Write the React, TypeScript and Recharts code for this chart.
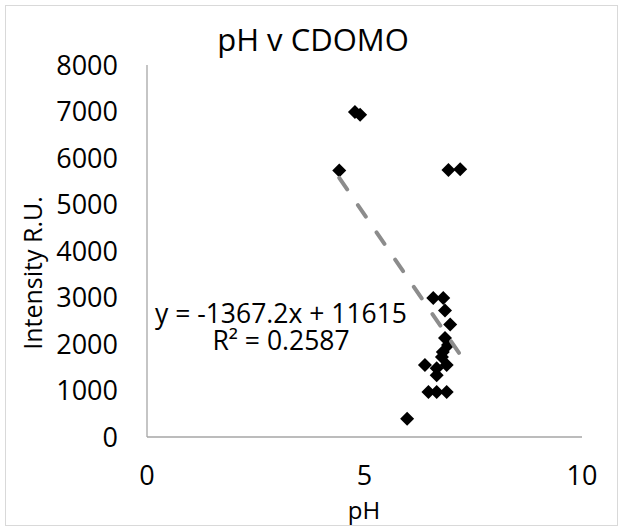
import React from 'react';
import { ScatterChart, Scatter, XAxis, YAxis } from 'recharts';

const phValues = [4.42, 4.78, 4.9, 6.93, 7.2, 5.98, 6.58, 6.81, 6.85, 6.97, 6.85, 6.92, 6.8, 6.78, 6.39, 6.66, 6.89, 6.66, 6.47, 6.66, 6.89];
const intensityValues = [5730, 6990, 6930, 5740, 5760, 390, 2990, 2990, 2720, 2420, 2130, 1980, 1830, 1720, 1550, 1480, 1550, 1330, 970, 970, 970];
const xTicks = [0, 5, 10];
const yTicks = [0, 1000, 2000, 3000, 4000, 5000, 6000, 7000, 8000];
const trendSlope = -1367.2;
const trendIntercept = 11615;
const titleText = 'pH v CDOMO';
const xTitle = 'pH';
const yTitle = 'Intensity R.U.';
const equationText = 'y = -1367.2x + 11615';
const r2Text = 'R² = 0.2587';

const points = phValues.map((x, i) => ({ x, y: intensityValues[i] }));
const minX = Math.min(...phValues);
const maxX = Math.max(...phValues);
const trendPoints = [
  { x: minX, y: trendSlope * minX + trendIntercept },
  { x: maxX, y: trendSlope * maxX + trendIntercept },
];

const FONT = '"Open Sans", sans-serif';

const Diamond = (props: any) => {
  const { cx, cy } = props;
  const r = 7;
  return <path d={`M${cx},${cy - r}L${cx + r},${cy}L${cx},${cy + r}L${cx - r},${cy}Z`} fill="#000" />;
};

const NoShape = () => <g />;

export default function App() {
  return (
    <div style={{ position: 'relative', width: 623, height: 531, background: '#fff' }}>
      <style>{'body{margin:0;}'}</style>
      <ScatterChart width={623} height={531} margin={{ top: 65, right: 41, bottom: 0, left: 0 }}>
        <XAxis
          type="number"
          dataKey="x"
          domain={[0, 10]}
          ticks={xTicks}
          interval={0}
          height={94}
          tickLine={false}
          tickSize={0}
          tickMargin={29}
          axisLine={{ stroke: '#a6a6a6', strokeWidth: 1.3 }}
          tick={{ fill: '#000', fontSize: 27, fontFamily: FONT }}
        />
        <YAxis
          type="number"
          dataKey="y"
          domain={[0, 8000]}
          ticks={yTicks}
          interval={0}
          width={147}
          tickLine={false}
          tickSize={0}
          tickMargin={29}
          axisLine={{ stroke: '#a6a6a6', strokeWidth: 1.3 }}
          tick={{ fill: '#000', fontSize: 27, fontFamily: FONT }}
        />
        <Scatter data={points} shape={Diamond} isAnimationActive={false} />
        <Scatter
          data={trendPoints}
          shape={NoShape}
          line={{ stroke: '#8c8c8c', strokeWidth: 4, strokeDasharray: '14 19', strokeLinecap: 'round' }}
          lineType="joint"
          isAnimationActive={false}
        />
      </ScatterChart>
      <svg
        width={623}
        height={531}
        style={{ position: 'absolute', left: 0, top: 0, pointerEvents: 'none' }}
        fontFamily={FONT}
      >
        <rect x={5.5} y={5.5} width={612} height={520} fill="none" stroke="#d9d9d9" strokeWidth={1} />
        <text x={313} y={51} textAnchor="middle" fontSize={31} fill="#000">{titleText}</text>
        <text x={364} y={519} textAnchor="middle" fontSize={24} fill="#000">{xTitle}</text>
        <text x={42} y={273} textAnchor="middle" fontSize={25} fill="#000" transform="rotate(-90 42 273)">{yTitle}</text>
        <text x={281} y={323} textAnchor="middle" fontSize={26.5} fill="#000">{equationText}</text>
        <text x={281} y={350} textAnchor="middle" fontSize={26.5} fill="#000">{r2Text}</text>
      </svg>
    </div>
  );
}
